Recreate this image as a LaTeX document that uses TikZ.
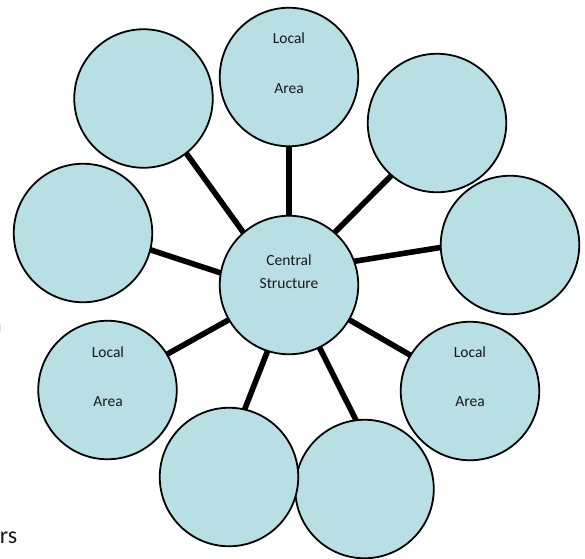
\documentclass[tikz,border=0pt]{standalone}
\usepackage{fontspec}
\setmainfont{Carlito}
\definecolor{bubble}{RGB}{184,223,227}
\definecolor{txt}{RGB}{25,25,25}
\begin{document}
\begin{tikzpicture}[x=1pt,y=-1pt,
  bub/.style={circle,draw=black,line width=1.8pt,fill=bubble,minimum size=138.5pt,inner sep=0pt,outer sep=0pt},
  conn/.style={line width=5.6pt,line cap=butt},
  lbl/.style={anchor=base,inner sep=0pt,text=txt,font=\fontsize{15.5}{18}\selectfont},
  stray/.style={anchor=base east,inner sep=0pt,text=txt,font=\fontsize{24}{28}\selectfont}]
\useasboundingbox (0,0) rectangle (585,558);
% circles
\node[bub] (c)  at (289,285) {};
\node[bub] (t)  at (289,77) {};
\node[bub] (tl) at (143.5,98.5) {};
\node[bub] (tr) at (437,123) {};
\node[bub] (l)  at (83,233) {};
\node[bub] (r)  at (510,245) {};
\node[bub] (bl) at (107.5,390) {};
\node[bub] (br) at (470,391) {};
\node[bub] (b2) at (364.5,489) {};
\node[bub] (b1) at (229,477) {};
% connectors
\draw[conn] (c.90) -- (t.270);
\draw[conn] (c.131.4) -- (tl.-52);
\draw[conn] (c.49.8) -- (tr.229.8);
\draw[conn] (c.20.7) -- (r.182.5);
\draw[conn] (c.170.4) -- (l.-14);
\draw[conn] (c.210.5) -- (bl.31.1);
\draw[conn] (c.252.5) -- (b1.77);
\draw[conn] (c.296) -- (b2.97.7);
\draw[conn] (c.-30.3) -- (br.149);
% labels
\node[lbl] (c1) at (289,265.7) {Central};
\node[lbl] (c2) at (289,288.3) {Structure};
\node[lbl] (t1) at (289,43.3) {Local};
\node[lbl] (t2) at (289,93.3) {Area};
\node[lbl] (bl1) at (108,357.3) {Local};
\node[lbl] (bl2) at (108,406) {Area};
\node[lbl] (br1) at (470,357.3) {Local};
\node[lbl] (br2) at (470,406) {Area};
% stray fragments at the left edge
\node[stray] (s1) at (2,332) {n};
\node[stray] (s2) at (17.5,543) {rs};
\end{tikzpicture}
\end{document}
